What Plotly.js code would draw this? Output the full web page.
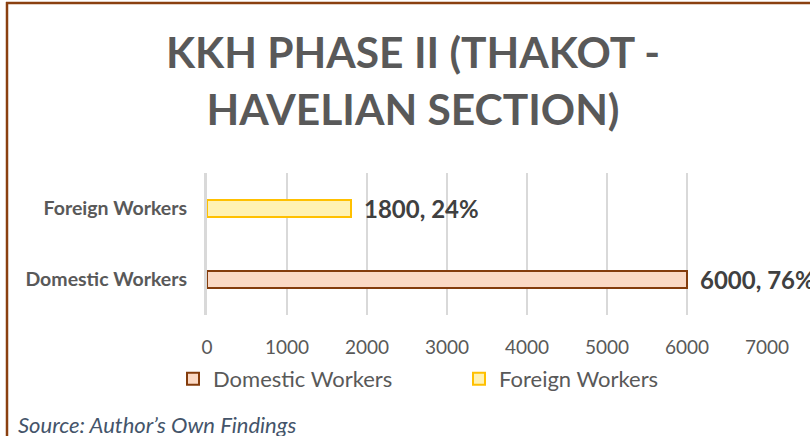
<!DOCTYPE html>
<html>
<head>
<meta charset="utf-8">
<script src="https://cdn.plot.ly/plotly-3.0.1.min.js"></script>
<style>html,body{margin:0;padding:0;background:#fff;}#chart{width:810px;height:436px;}</style>
</head>
<body>
<div id="chart"></div>
<script>
// ---- data ----
const seriesNames = ['Domestic Workers', 'Foreign Workers'];
const categories = ['Domestic Workers', 'Foreign Workers'];
const values = [6000, 1800];
const pctLabels = ['76%', '24%'];
const xTicks = [0, 1000, 2000, 3000, 4000, 5000, 6000, 7000];
const titleLines = ['KKH PHASE II (THAKOT -', 'HAVELIAN SECTION)'];
const sourceText = 'Source: Author\u2019s Own Findings';

const fills = ['#FBD9C4', '#FFF2B3'];
const borders = ['#843C0C', '#FFC000'];

const L = 207, R = 43, T = 173, B = 121;
const W = 810 - L - R, H = 436 - T - B;
const px2x = p => (p - L) / W;
const py2y = p => (436 - B - p) / H;

const traces = seriesNames.map((name, i) => ({
  type: 'bar',
  orientation: 'h',
  name: name,
  y: [categories[i]],
  x: [values[i]],
  width: 0.24,
  marker: { color: fills[i], line: { color: borders[i], width: 2 } },
  hoverinfo: 'skip'
}));

const annotations = seriesNames.map((name, i) => ({
  xref: 'x', yref: 'y',
  x: values[i], y: categories[i],
  text: '<b>' + values[i] + ', ' + pctLabels[i] + '</b>',
  showarrow: false, xanchor: 'left', xshift: 11, yshift: 0,
  font: { family: 'Lato', size: 24, color: '#404040' }
}));
annotations.push({
  xref: 'paper', yref: 'paper', x: px2x(16), y: py2y(424),
  xanchor: 'left', yanchor: 'middle', showarrow: false,
  text: '<i>' + sourceText + '</i>',
  font: { family: 'Lato', size: 22, color: '#44546A' }
});

const layout = {
  width: 810, height: 436,
  margin: { l: L, r: R, t: T, b: B, pad: 0 },
  paper_bgcolor: '#fff', plot_bgcolor: '#fff',
  title: {
    text: '<span style="font-size:42.5px">' + titleLines[0] + '</span><br><span style="font-size:42.5px">' + titleLines[1] + '</span>',
    font: { family: 'Lato', size: 44, color: '#595959', weight: 'bold' },
    xref: 'container', yref: 'container', x: 413 / 810, xanchor: 'center',
    y: 1 - 68 / 436, yanchor: 'top'
  },
  barmode: 'overlay',
  showlegend: true,
  legend: {
    orientation: 'h', x: px2x(173), y: py2y(358), xanchor: 'left', yanchor: 'top',
    font: { family: 'Lato', size: 22, color: '#595959' },
    entrywidth: 241, entrywidthmode: 'pixels', traceorder: 'normal'
  },
  xaxis: {
    range: [0, 7000], tickvals: xTicks, ticktext: xTicks.map(String),
    showgrid: true, gridcolor: '#D9D9D9', gridwidth: 1.3,
    zeroline: false, showline: false, ticks: '', ticklen: 0, ticklabelstandoff: 19,
    tickfont: { family: 'Lato', size: 19, color: '#595959' },
    fixedrange: true
  },
  yaxis: {
    type: 'category', categoryarray: categories, categoryorder: 'array',
    range: [-0.5, 1.5],
    showgrid: false, zeroline: false, showline: true, linecolor: '#D9D9D9', linewidth: 3,
    ticks: '', ticklabelstandoff: 13,
    tickfont: { family: 'Lato', size: 19.5, color: '#595959', weight: 'bold' },
    fixedrange: true
  },
  shapes: [
    { type: 'line', xref: 'paper', yref: 'paper', x0: px2x(6), x1: px2x(812), y0: py2y(3), y1: py2y(3), line: { color: '#8A4010', width: 2.5 } },
    { type: 'line', xref: 'paper', yref: 'paper', x0: px2x(7), x1: px2x(7), y0: py2y(2), y1: py2y(438), line: { color: '#8A4010', width: 2.5 } }
  ],
  annotations: annotations
};

Plotly.newPlot('chart', traces, layout, { displayModeBar: false, staticPlot: true });
</script>
</body>
</html>
